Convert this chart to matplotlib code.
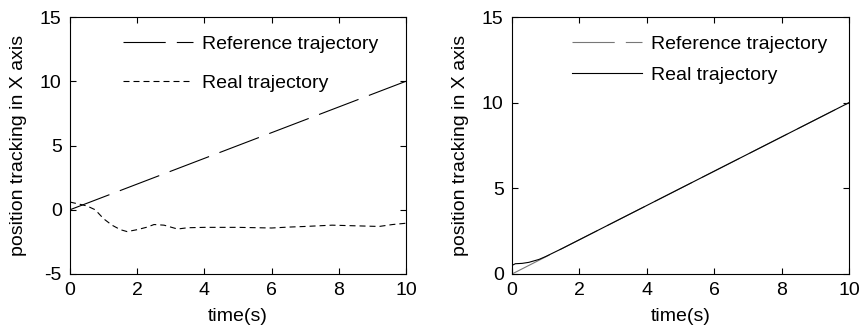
import numpy as np
import matplotlib.pyplot as plt

plt.rcParams['font.family'] = ['Liberation Sans', 'DejaVu Sans']
plt.rcParams['font.size'] = 14
plt.rcParams['axes.unicode_minus'] = False

# reference trajectory (straight ramp)
t_ref = [0, 2, 4, 6, 8, 10]
x_ref = [0, 2, 4, 6, 8, 10]

# real trajectory, left plot (poor tracking)
t_left = [0, 0.25, 0.5, 0.75, 1.0, 1.25, 1.5, 1.7, 2.0, 2.3, 2.5, 2.8, 3.0, 3.2, 3.5,
          4.0, 5.0, 6.0, 6.5, 7.0, 7.8, 8.5, 9.2, 9.6, 10.0]
x_left = [0.6, 0.45, 0.3, 0.0, -0.7, -1.2, -1.55, -1.7, -1.55, -1.35, -1.15, -1.2, -1.35,
          -1.5, -1.4, -1.37, -1.37, -1.42, -1.35, -1.3, -1.2, -1.25, -1.3, -1.15, -1.05]

# real trajectory, right plot (good tracking)
t_right = [0, 0.1, 0.3, 0.5, 0.8, 1.0, 1.5, 2, 4, 6, 8, 10]
x_right = [0.5, 0.6, 0.62, 0.68, 0.85, 1.02, 1.5, 2, 4, 6, 8, 10]

fig = plt.figure(figsize=(8.64, 3.33), dpi=100)
ax1 = fig.add_axes([70 / 864, 59 / 333, 336 / 864, 257 / 333])
ax2 = fig.add_axes([512 / 864, 59 / 333, 337 / 864, 257 / 333])

long_dash = (38, 10)
short_dash = (5.4, 3.6)

ax1.plot(t_ref, x_ref, color='black', lw=0.8, dashes=long_dash, label='Reference trajectory')
ax1.plot(t_left, x_left, color='black', lw=0.8, dashes=short_dash, label='Real trajectory')
ax1.set_ylim(-5, 15)
ax1.set_yticks([-5, 0, 5, 10, 15])
ax1.legend(loc='upper left', frameon=False, handlelength=3.6, handletextpad=0.45,
           labelspacing=1.1, borderpad=0, borderaxespad=0,
           bbox_to_anchor=(0.158, 0.93))

ax2.plot(t_ref, x_ref, color='#777777', lw=0.8, dashes=long_dash, label='Reference trajectory')
ax2.plot(t_right, x_right, color='black', lw=0.8, label='Real trajectory')
ax2.set_ylim(0, 15)
ax2.set_yticks([0, 5, 10, 15])
ax2.legend(loc='upper left', frameon=False, handlelength=3.6, handletextpad=0.45,
           labelspacing=0.7, borderpad=0, borderaxespad=0,
           bbox_to_anchor=(0.178, 0.93))

for ax in (ax1, ax2):
    ax.set_xlim(0, 10)
    ax.set_xticks([0, 2, 4, 6, 8, 10])
    ax.set_xlabel('time(s)', labelpad=6)
    ax.set_ylabel('position tracking in X axis', labelpad=9)
    ax.tick_params(direction='in', top=True, right=True, length=4, width=0.8, pad=6)
    for s in ax.spines.values():
        s.set_linewidth(0.8)

fig.savefig('out.png', dpi=100)
